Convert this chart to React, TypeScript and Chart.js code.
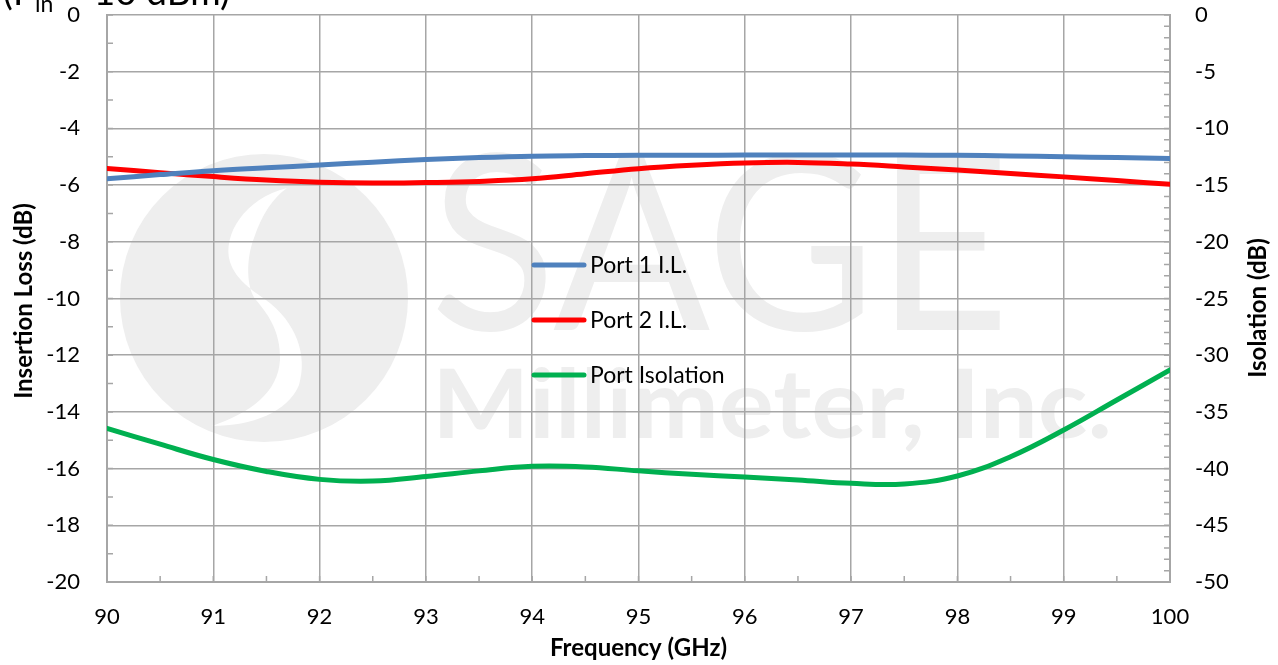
import React, { useEffect, useRef } from "react";
import { Chart, registerables } from "chart.js";

Chart.register(...registerables);

const FREQ_GHZ = [90, 90.5, 91, 91.5, 92, 92.5, 93, 93.5, 94, 94.5, 95, 95.5, 96, 96.5, 97, 97.5, 98, 98.5, 99, 99.5, 100];
const PORT1_IL = [-5.78, -5.63, -5.49, -5.39, -5.29, -5.19, -5.1, -5.03, -4.98, -4.96, -4.95, -4.95, -4.94, -4.94, -4.94, -4.94, -4.95, -4.97, -5.0, -5.03, -5.06];
const PORT2_IL = [-5.41, -5.56, -5.7, -5.82, -5.9, -5.93, -5.91, -5.87, -5.78, -5.6, -5.42, -5.3, -5.22, -5.2, -5.26, -5.36, -5.47, -5.59, -5.71, -5.84, -5.97];
const PORT_ISO = [-36.45, -37.85, -39.2, -40.25, -40.95, -41.1, -40.7, -40.2, -39.8, -39.85, -40.2, -40.5, -40.75, -41.0, -41.3, -41.35, -40.65, -38.95, -36.6, -33.95, -31.3];

const SERIES_NAMES = ["Port 1 I.L.", "Port 2 I.L.", "Port Isolation"];
const SERIES_COLORS = ["#4f81bd", "#ff0000", "#00b050"];

const X_MIN = 90, X_MAX = 100, X_STEP = 1, X_MINOR = 0.5;
const IL_MIN = -20, IL_MAX = 0, IL_STEP = 2, IL_MINOR = 1;
const ISO_MIN = -50, ISO_MAX = 0, ISO_STEP = 5, ISO_MINOR = 1;

const FONT = "Lato, 'Open Sans', sans-serif";
const GRID = "#a6a6a6";

const decorPlugin = {
  id: "decor",
  beforeDraw(chart: any) {
    const ctx = chart.ctx;
    ctx.save();
    ctx.fillStyle = "#ffffff";
    ctx.fillRect(0, 0, chart.width, chart.height);
    // watermark logo
    ctx.fillStyle = "#eeeeee";
    ctx.beginPath();
    ctx.arc(264, 298, 144, 0, Math.PI * 2);
    ctx.fill();
    ctx.fillStyle = "#ffffff";
    ctx.beginPath();
    ctx.moveTo(287, 188);
    ctx.bezierCurveTo(245, 198, 222, 235, 230, 262);
    ctx.bezierCurveTo(236, 280, 252, 290, 266, 300);
    ctx.bezierCurveTo(296, 322, 308, 355, 299, 385);
    ctx.bezierCurveTo(288, 412, 252, 426, 212, 426);
    ctx.bezierCurveTo(252, 412, 278, 392, 280, 360);
    ctx.bezierCurveTo(281, 330, 266, 312, 256, 300);
    ctx.bezierCurveTo(246, 288, 246, 258, 254, 238);
    ctx.bezierCurveTo(262, 214, 273, 198, 287, 188);
    ctx.fill();
    // watermark text
    ctx.fillStyle = "#eeeeee";
    ctx.textBaseline = "alphabetic";
    ctx.textAlign = "left";
    ctx.font = `normal 245px ${FONT}`;
    let w = ctx.measureText("SAGE").width;
    ctx.save();
    ctx.translate(430, 330);
    ctx.scale(580 / w, 1);
    ctx.fillText("SAGE", 0, 0);
    ctx.restore();
    ctx.font = `bold 95px ${FONT}`;
    w = ctx.measureText("Millimeter, Inc.").width;
    ctx.save();
    ctx.translate(432, 438);
    ctx.scale(680 / w, 1);
    ctx.fillText("Millimeter, Inc.", 0, 0);
    ctx.restore();
    ctx.restore();
  },
  beforeDatasetsDraw(chart: any) {
    const ctx = chart.ctx;
    const a = chart.chartArea;
    const y = chart.scales.y;
    const y2 = chart.scales.y2;
    const x = chart.scales.x;
    ctx.save();
    ctx.strokeStyle = GRID;
    ctx.lineWidth = 1.5;
    ctx.beginPath();
    for (let v = IL_MIN; v <= IL_MAX + 1e-9; v += IL_MINOR) {
      const py = y.getPixelForValue(v);
      ctx.moveTo(a.left, py);
      ctx.lineTo(a.left + 6, py);
    }
    for (let v = ISO_MIN; v <= ISO_MAX + 1e-9; v += ISO_MINOR) {
      const py = y2.getPixelForValue(v);
      ctx.moveTo(a.right - 6, py);
      ctx.lineTo(a.right, py);
    }
    for (let v = X_MIN; v <= X_MAX + 1e-9; v += X_MINOR) {
      const px = x.getPixelForValue(v);
      ctx.moveTo(px, a.bottom);
      ctx.lineTo(px, a.bottom - 6);
    }
    ctx.stroke();
    ctx.restore();
  },
  afterDraw(chart: any) {
    const ctx = chart.ctx;
    const a = chart.chartArea;
    ctx.save();
    // legend
    const rows = [265, 320, 375];
    ctx.font = `23px ${FONT}`;
    ctx.textBaseline = "middle";
    ctx.textAlign = "left";
    for (let i = 0; i < 3; i++) {
      ctx.strokeStyle = SERIES_COLORS[i];
      ctx.lineWidth = 5;
      ctx.lineCap = "round";
      ctx.beginPath();
      ctx.moveTo(534, rows[i]);
      ctx.lineTo(584, rows[i]);
      ctx.stroke();
      ctx.fillStyle = "#000";
      ctx.fillText(SERIES_NAMES[i], 590, rows[i] + 1);
    }
    // axis titles
    ctx.font = `bold 24px ${FONT}`;
    ctx.textAlign = "center";
    ctx.textBaseline = "middle";
    ctx.fillText("Frequency (GHz)", (a.left + a.right) / 2, 648);
    ctx.save();
    ctx.translate(24, 301);
    ctx.rotate(-Math.PI / 2);
    ctx.fillText("Insertion Loss (dB)", 0, 0);
    ctx.restore();
    ctx.save();
    ctx.translate(1258, 308);
    ctx.rotate(-Math.PI / 2);
    ctx.fillText("Isolation (dB)", 0, 0);
    ctx.restore();
    // clipped top-left note
    ctx.font = `37px ${FONT}`;
    ctx.textAlign = "left";
    ctx.textBaseline = "alphabetic";
    let px = 3;
    ctx.fillText("(P", px, 5);
    px += ctx.measureText("(P").width;
    ctx.font = `23px ${FONT}`;
    ctx.fillText("in", px, 12);
    px += ctx.measureText("in").width;
    ctx.font = `37px ${FONT}`;
    ctx.fillText(" = 10 dBm)", px, 5);
    ctx.restore();
  },
};

export default function App() {
  const ref = useRef<HTMLCanvasElement>(null);
  useEffect(() => {
    document.body.style.margin = "0";
    const mk = (vals: number[]) => FREQ_GHZ.map((f, i) => ({ x: f, y: vals[i] }));
    const chart = new Chart(ref.current as HTMLCanvasElement, {
      type: "line",
      data: {
        datasets: [
          { label: SERIES_NAMES[0], data: mk(PORT1_IL), borderColor: SERIES_COLORS[0], yAxisID: "y" },
          { label: SERIES_NAMES[1], data: mk(PORT2_IL), borderColor: SERIES_COLORS[1], yAxisID: "y" },
          { label: SERIES_NAMES[2], data: mk(PORT_ISO), borderColor: SERIES_COLORS[2], yAxisID: "y2" },
        ].map((d) => ({ ...d, borderWidth: 5, pointRadius: 0, fill: false, tension: 0.4, borderCapStyle: "round" as const })),
      },
      options: {
        animation: false,
        responsive: true,
        maintainAspectRatio: false,
        layout: { padding: { top: 15, left: 0, right: 0, bottom: 0 } },
        plugins: { legend: { display: false }, tooltip: { enabled: false } },
        scales: {
          x: {
            type: "linear",
            min: X_MIN,
            max: X_MAX,
            ticks: { stepSize: X_STEP, color: "#000", font: { family: FONT, size: 22 }, padding: 22 },
            grid: { color: GRID, lineWidth: 1.5, drawTicks: false },
            border: { color: GRID, width: 2 },
            afterFit: (s: any) => { s.height = 83; s.paddingLeft = 0; s.paddingRight = 0; },
          },
          y: {
            position: "left",
            min: IL_MIN,
            max: IL_MAX,
            ticks: { stepSize: IL_STEP, color: "#000", font: { family: FONT, size: 22 }, padding: 27 },
            grid: { color: GRID, lineWidth: 1.5, drawTicks: false },
            border: { color: GRID, width: 2 },
            afterFit: (s: any) => { s.width = 107; s.paddingTop = 0; s.paddingBottom = 0; },
          },
          y2: {
            position: "right",
            min: ISO_MIN,
            max: ISO_MAX,
            ticks: { stepSize: ISO_STEP, color: "#000", font: { family: FONT, size: 22 }, padding: 25 },
            grid: { display: false, drawTicks: false },
            border: { color: GRID, width: 2 },
            afterFit: (s: any) => { s.width = 108; s.paddingTop = 0; s.paddingBottom = 0; },
          },
        },
      },
      plugins: [decorPlugin],
    });
    return () => chart.destroy();
  }, []);
  return (
    <div style={{ position: "absolute", left: 0, top: 0, width: 1278, height: 665 }}>
      <canvas ref={ref} />
    </div>
  );
}
